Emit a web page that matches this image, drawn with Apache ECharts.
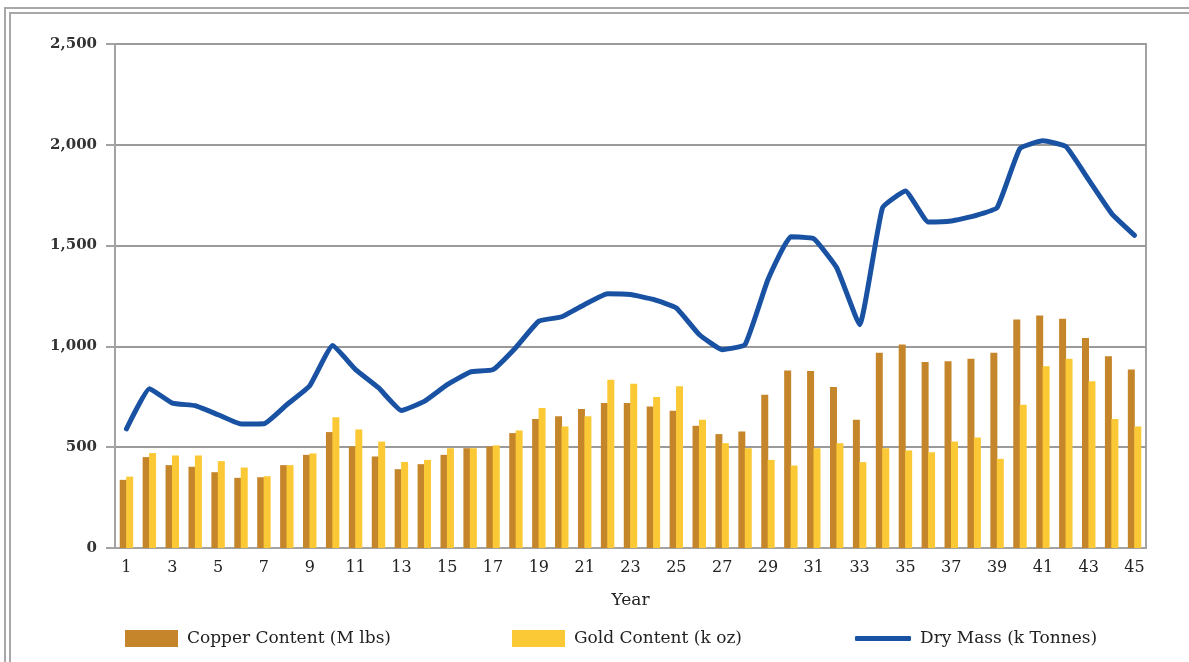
<!DOCTYPE html>
<html>
<head>
<meta charset="utf-8">
<script src="https://cdn.jsdelivr.net/npm/echarts@6/dist/echarts.min.js"></script>
<style>
  body { margin:0; background:#fff; }
  #wrap { position:relative; width:1189px; height:662px; overflow:hidden; }
  .frame { position:absolute; width:2000px; height:2000px; border-left:2px solid #a8a8a8; border-top:2px solid #a8a8a8; }
  #main { position:absolute; left:0; top:0; width:1189px; height:662px; }
</style>
</head>
<body>
<div id="wrap">
  <div class="frame" style="left:4px;top:7px"></div>
  <div class="frame" style="left:9px;top:12px"></div>
  <div id="main"></div>
</div>
<script>
// years 1..45
var years = []
for (var i = 1; i <= 45; i++) years.push(String(i))

var copper = [338, 451, 411, 403, 376, 348, 351, 411, 462, 575,
              504, 454, 391, 416, 462, 495, 504, 570, 640, 653,
              689, 719, 719, 702, 681, 606, 565, 578, 760, 881,
              878, 799, 636, 968, 1009, 923, 926, 939, 968, 1133,
              1153, 1137, 1042, 951, 885]

var gold = [354, 471, 459, 459, 431, 399, 356, 411, 469, 649,
            588, 528, 427, 437, 495, 495, 509, 583, 694, 603,
            653, 835, 815, 749, 802, 636, 520, 495, 437, 409,
            495, 520, 426, 495, 484, 475, 528, 548, 442, 711,
            901, 939, 827, 640, 603]

var dryMass = [591, 790, 719, 706, 661, 615, 616, 711, 805, 1004,
               885, 795, 682, 727, 810, 873, 885, 995, 1125, 1147,
               1208, 1261, 1257, 1233, 1191, 1059, 984, 1009, 1332, 1544,
               1534, 1390, 1108, 1688, 1771, 1617, 1622, 1647, 1688, 1982,
               2020, 1992, 1826, 1659, 1551]

var names = ['Copper Content (M lbs)', 'Gold Content (k oz)', 'Dry Mass (k Tonnes)']

var fontFam = '"DejaVu Serif", serif'
var gray = '#a3a3a3'

function legendAt(name, left, w, h, icon){
    return {
        data: [{ name: name, icon: icon }],
        left: left,
        top: 625,
        itemWidth: w,
        itemHeight: h,
        itemGap: 0,
        textStyle: { fontFamily: fontFam, fontSize: 17, color: '#222', padding: [0, 0, 0, 4] }
    }
}

var option = {
    animation: false,
    grid: { left: 115, right: 43, top: 44, bottom: 114, show: true, borderColor: gray, borderWidth: 2 },
    legend: [
        legendAt(names[0], 120, 53, 17, 'rect'),
        legendAt(names[1], 507, 53, 17, 'rect'),
        legendAt(names[2], 850, 56, 5, 'roundRect')
    ],
    xAxis: {
        type: 'category',
        data: years,
        name: 'Year',
        nameLocation: 'middle',
        nameGap: 44,
        nameTextStyle: { fontFamily: fontFam, fontSize: 17, color: '#222' },
        axisLine: { lineStyle: { color: gray, width: 2 } },
        axisTick: { interval: 0, length: 7, lineStyle: { color: gray, width: 2 } },
        axisLabel: { interval: 1, margin: 12, fontFamily: fontFam, fontSize: 16, color: '#222' }
    },
    yAxis: {
        type: 'value',
        min: 0,
        max: 2500,
        interval: 500,
        axisLine: { show: true, lineStyle: { color: gray, width: 2 } },
        axisTick: { show: true, length: 9, lineStyle: { color: gray, width: 2 } },
        axisLabel: {
            margin: 18,
            fontFamily: fontFam, fontSize: 15, fontWeight: 'bold', color: '#333',
            formatter: function(v){ return v.toLocaleString('en-US') }
        },
        splitLine: { lineStyle: { color: '#9a9a9a', width: 2 } }
    },
    series: [
        {
            name: names[0],
            type: 'bar',
            data: copper,
            barWidth: 7,
            barGap: '-8%',
            itemStyle: { color: '#c5862b' }
        },
        {
            name: names[1],
            type: 'bar',
            data: gold,
            barWidth: 7,
            itemStyle: { color: '#fbc935' }
        },
        {
            name: names[2],
            type: 'line',
            data: dryMass,
            smooth: 0.12,
            symbol: 'none',
            lineStyle: { color: '#1a52a3', width: 5, cap: 'round', join: 'round' },
            itemStyle: { color: '#1a52a3' },
            z: 5
        }
    ]
}

var myChart = echarts.init(document.getElementById('main'))
myChart.setOption(option)
</script>
</body>
</html>
